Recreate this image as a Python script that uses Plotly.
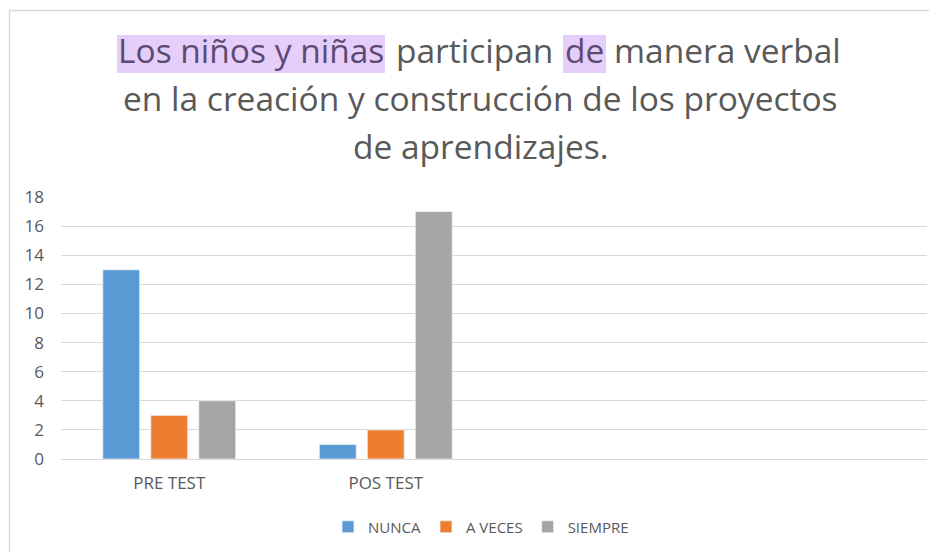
import plotly.graph_objects as go

categories = ["PRE TEST", "POS TEST"]
series_names = ["NUNCA", "A VECES", "SIEMPRE"]
nunca = [13, 1]
a_veces = [3, 2]
siempre = [4, 17]
y_ticks = [0, 2, 4, 6, 8, 10, 12, 14, 16, 18]

colors = ["#5B9BD5", "#ED7D31", "#A5A5A5"]
FONT = "Open Sans"
TXT = "#595959"

# page has an 8px body margin; work in reference pixel coords and shift
OFF = 8
W, H = 937 - OFF, 552 - OFF
L, R, T, B = 61 - OFF, 927 - OFF, 197 - OFF, 459 - OFF

def px(x):
    return (x - OFF - L) / (R - L)

def py(y):
    return (B - (y - OFF)) / (B - T)

fig = go.Figure()
for name, vals, c in zip(series_names, [nunca, a_veces, siempre], colors):
    fig.add_trace(go.Bar(x=categories, y=vals, name=name,
                         marker=dict(color=c, line=dict(color="#F2F2F2", width=0.8))))

anns = []
tsize = 33.5
hl = "#E6CEFB"
hl_txt = "#5D4A70"
line1 = [
    ("Los niños y niñas", 251, True),
    ("participan", 474, False),
    ("de", 584.5, True),
    ("manera verbal", 727.5, False),
]
for txt, xc, h in line1:
    anns.append(dict(text=txt, x=px(xc), y=py(49.8), xref="paper", yref="paper",
                     xanchor="center", yanchor="middle", showarrow=False,
                     font=dict(family=FONT, size=tsize, color=hl_txt if h else TXT)))
for txt, yc in [("en la creación y construcción de los proyectos", 97.8),
                ("de aprendizajes.", 145.8)]:
    anns.append(dict(text=txt, x=px(480), y=py(yc), xref="paper", yref="paper",
                     xanchor="center", yanchor="middle", showarrow=False,
                     font=dict(family=FONT, size=tsize, color=TXT)))

shapes = [dict(type="rect", xref="paper", yref="paper",
               x0=px(9.5), x1=px(990), y0=py(600), y1=py(10.5),
               line=dict(color="#D9D9D9", width=1.5), layer="below")]
for x0, x1 in [(117, 385), (563, 606)]:
    shapes.append(dict(type="rect", xref="paper", yref="paper",
                       x0=px(x0), x1=px(x1), y0=py(73), y1=py(35),
                       fillcolor=hl, line=dict(width=0), layer="below"))

fig.update_layout(
    width=W, height=H,
    margin=dict(l=L, r=W - R, t=T, b=H - B, autoexpand=False),
    paper_bgcolor="white", plot_bgcolor="white",
    barmode="group", bargap=0.335, bargroupgap=0.23,
    font=dict(family=FONT, color=TXT, size=16),
    annotations=anns,
    shapes=shapes,
    showlegend=True,
    legend=dict(orientation="h", x=px(481), xanchor="center", y=py(527), yanchor="middle",
                font=dict(family=FONT, size=15, color=TXT), itemwidth=30,
                traceorder="normal"),
)
fig.update_xaxes(type="category", range=[-0.5, 3.5], showgrid=False, showline=False,
                 ticks="", ticklabelstandoff=12, tickfont=dict(family=FONT, size=17, color=TXT))
fig.update_yaxes(range=[0, 18], tickvals=y_ticks, showgrid=True, gridcolor="#D9D9D9",
                 gridwidth=1, zeroline=True, zerolinecolor="#D9D9D9", zerolinewidth=1,
                 showline=False, ticks="", ticklabelstandoff=16,
                 tickfont=dict(family=FONT, size=17, color=TXT))

fig.write_html("out.html")
